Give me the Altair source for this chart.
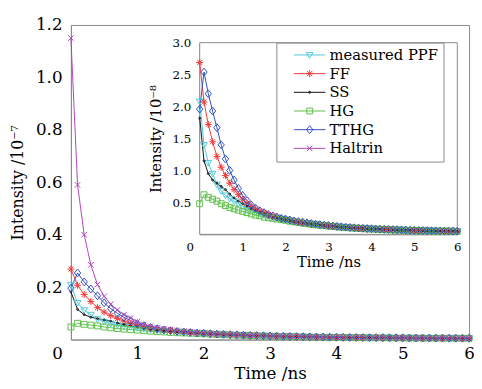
import altair as alt
import pandas as pd

# ---------------- data (intensity in units of 1e-8) ----------------
T = [round(0.1 * i, 1) for i in range(61)]  # time grid, ns
SERIES = ["measured PPF", "FF", "SS", "HG", "TTHG", "Haltrin"]
COLORS = ["#4fc8d8", "#f23a3a", "#111111", "#5ec24a", "#3150c0", "#b044bc"]

PPF = [2.08, 1.40, 1.12, 0.95, 0.78, 0.68, 0.61, 0.56, 0.52, 0.48, 0.44,
       0.41, 0.38, 0.35, 0.33, 0.31, 0.29, 0.27, 0.26, 0.245, 0.23,
       0.215, 0.20, 0.19, 0.18, 0.17, 0.16, 0.152, 0.145, 0.138, 0.13,
       0.124, 0.118, 0.113, 0.108, 0.103, 0.099, 0.095, 0.091, 0.087, 0.084,
       0.081, 0.078, 0.075, 0.073, 0.07, 0.068, 0.066, 0.064, 0.062, 0.06,
       0.058, 0.057, 0.055, 0.054, 0.052, 0.051, 0.05, 0.049, 0.048, 0.047]
FF = [2.69, 2.07, 1.72, 1.45, 1.22, 1.05, 0.92, 0.80, 0.70, 0.62, 0.55,
      0.49, 0.44, 0.40, 0.37, 0.34, 0.31, 0.29, 0.27, 0.25, 0.235,
      0.22, 0.205, 0.195, 0.185, 0.175, 0.165, 0.157, 0.149, 0.141, 0.134,
      0.127, 0.121, 0.115, 0.11, 0.105, 0.1, 0.096, 0.092, 0.088, 0.085,
      0.082, 0.079, 0.076, 0.073, 0.071, 0.069, 0.067, 0.065, 0.063, 0.061,
      0.059, 0.058, 0.056, 0.055, 0.053, 0.052, 0.051, 0.05, 0.049, 0.048]
SS = [1.82, 1.15, 0.95, 0.85, 0.80, 0.75, 0.70, 0.63, 0.57, 0.52, 0.48,
      0.44, 0.40, 0.37, 0.34, 0.32, 0.30, 0.28, 0.26, 0.245, 0.23,
      0.215, 0.20, 0.19, 0.18, 0.17, 0.162, 0.154, 0.146, 0.139, 0.132,
      0.126, 0.12, 0.114, 0.109, 0.104, 0.1, 0.096, 0.092, 0.088, 0.085,
      0.082, 0.079, 0.076, 0.073, 0.071, 0.069, 0.067, 0.065, 0.063, 0.061,
      0.059, 0.058, 0.056, 0.055, 0.053, 0.052, 0.051, 0.05, 0.049, 0.048]
HG = [0.48, 0.62, 0.58, 0.55, 0.52, 0.48, 0.45, 0.42, 0.40, 0.38, 0.36,
      0.34, 0.32, 0.30, 0.29, 0.27, 0.26, 0.25, 0.24, 0.23, 0.22,
      0.205, 0.195, 0.185, 0.175, 0.167, 0.158, 0.15, 0.143, 0.136, 0.129,
      0.123, 0.117, 0.112, 0.107, 0.102, 0.098, 0.094, 0.09, 0.087, 0.084,
      0.081, 0.078, 0.075, 0.073, 0.07, 0.068, 0.066, 0.064, 0.062, 0.06,
      0.058, 0.057, 0.055, 0.054, 0.052, 0.051, 0.05, 0.049, 0.048, 0.047]
TTHG = [1.96, 2.54, 2.20, 1.93, 1.67, 1.40, 1.18, 1.00, 0.85, 0.72, 0.61,
        0.53, 0.46, 0.41, 0.37, 0.34, 0.31, 0.29, 0.27, 0.25, 0.24,
        0.225, 0.21, 0.2, 0.19, 0.18, 0.17, 0.161, 0.153, 0.145, 0.138,
        0.131, 0.125, 0.119, 0.113, 0.108, 0.103, 0.099, 0.095, 0.091, 0.088,
        0.085, 0.082, 0.079, 0.076, 0.074, 0.072, 0.07, 0.068, 0.066, 0.064,
        0.062, 0.06, 0.058, 0.057, 0.055, 0.054, 0.053, 0.052, 0.051, 0.05]
HALTRIN = [11.5, 5.9, 4.0, 2.85, 2.1, 1.65, 1.35, 1.13, 0.95, 0.82, 0.68,
           0.58, 0.51, 0.46, 0.42, 0.38, 0.35, 0.32, 0.30, 0.28, 0.26,
           0.245, 0.23, 0.215, 0.2, 0.19, 0.18, 0.17, 0.16, 0.152, 0.144,
           0.137, 0.13, 0.124, 0.118, 0.113, 0.108, 0.103, 0.099, 0.095, 0.091,
           0.088, 0.085, 0.082, 0.079, 0.076, 0.074, 0.072, 0.07, 0.068, 0.066,
           0.064, 0.062, 0.06, 0.058, 0.057, 0.055, 0.054, 0.053, 0.052, 0.051]

VALUES = [PPF, FF, SS, HG, TTHG, HALTRIN]
INSET_SERIES = ["measured PPF", "FF", "SS", "HG", "TTHG"]

MAIN_Y_TICKS = [0.2, 0.4, 0.6, 0.8, 1.0, 1.2]
INSET_Y_TICKS = [0.5, 1.0, 1.5, 2.0, 2.5, 3.0]
X_TICKS = [0, 1, 2, 3, 4, 5, 6]

# ---------------- marker shapes ----------------
MARK_PATHS = [
    "M-0.85,-0.6L0.85,-0.6L0,0.85Z",                                        # triangle down
    "M-0.9,0L0.9,0M0,-0.9L0,0.9M-0.64,-0.64L0.64,0.64M-0.64,0.64L0.64,-0.64",  # asterisk
    "M-0.25,0A0.25,0.25 0 1,0 0.25,0A0.25,0.25 0 1,0 -0.25,0Z",             # dot
    "M-0.75,-0.75L0.75,-0.75L0.75,0.75L-0.75,0.75Z",                        # square
    "M0,-1L0.8,0L0,1L-0.8,0Z",                                              # diamond
    "M-0.7,-0.7L0.7,0.7M-0.7,0.7L0.7,-0.7",                                 # x
]
LEG_PATHS = [
    "M1,0L7,0M3.36,-0.45L4.64,-0.45L4,0.64Z",
    "M1,0L7,0M3.32,0L4.68,0M4,-0.68L4,0.68M3.52,-0.48L4.48,0.48M3.52,0.48L4.48,-0.48",
    "M1,0L7,0M3.8,0A0.2,0.2 0 1,0 4.2,0A0.2,0.2 0 1,0 3.8,0Z",
    "M1,0L7,0M3.44,-0.56L4.56,-0.56L4.56,0.56L3.44,0.56Z",
    "M1,0L7,0M4,-0.75L4.6,0L4,0.75L3.4,0Z",
    "M1,0L7,0M3.48,-0.52L4.52,0.52M3.48,0.52L4.52,-0.52",
]

rows = []
for name, vals in zip(SERIES, VALUES):
    for t, v in zip(T, vals):
        rows.append({"t": t, "series": name, "v": v})
df = pd.DataFrame(rows)
df_inset = df[df["series"].isin(INSET_SERIES)]

FONT = "DejaVu Serif"
FRAME = "#8a8a8a"

# ---------------- main chart ----------------
main_x = alt.X("t:Q", scale=alt.Scale(domain=[0, 6], nice=False),
               axis=alt.Axis(values=X_TICKS, format="d", title="Time /ns",
                             labelFlush=False, labelFontSize=17, titleFontSize=17,
                             labelPadding=6, titlePadding=5,
                             labelOffset={"condition": {"test": "datum.value == 0", "value": -14}, "value": 0}))
main_y = alt.Y("v7:Q", scale=alt.Scale(domain=[0, 1.2], nice=False),
               axis=alt.Axis(values=MAIN_Y_TICKS, format=".1f", title="Intensity /10\u207b\u2077",
                             labelFontSize=17, titleFontSize=16, labelPadding=9, titlePadding=10))
main_color = alt.Color("series:N", scale=alt.Scale(domain=SERIES, range=COLORS), legend=None)
main_shape = alt.Shape("series:N", scale=alt.Scale(domain=SERIES, range=MARK_PATHS), legend=None)

main_base = alt.Chart(df).transform_calculate(v7="datum.v / 10")
main_lines = main_base.mark_line(strokeWidth=1).encode(x=main_x, y=main_y, color=main_color, detail="series:N")
main_pts = main_base.mark_point(filled=False, size=64, opacity=1, strokeWidth=1).encode(
    x=main_x, y=main_y, color=main_color, shape=main_shape)
main = alt.layer(main_lines, main_pts)

# ---------------- inset ----------------
in_xscale = alt.Scale(domain=[0, 6], range=[131, 393], nice=False)
in_yscale = alt.Scale(domain=[0, 3], range=[213, 18], nice=False)
in_xaxis = alt.Axis(values=X_TICKS, format="d", title="Time /ns", orient="bottom", offset=-107,
                    labelFlush=False, labelFontSize=12, titleFontSize=15, labelPadding=7, titlePadding=3,
                    labelOffset={"condition": {"test": "datum.value == 0", "value": -10}, "value": 0})
in_yaxis = alt.Axis(values=INSET_Y_TICKS, format=".1f", title="Intensity /10\u207b\u2078", orient="left",
                    offset=-131, labelFontSize=12, titleFontSize=15, labelPadding=9, titlePadding=9)

frame = alt.Chart(pd.DataFrame({"a": [0]})).mark_rect(fill="white", stroke=FRAME, strokeWidth=1).encode(
    x=alt.X(datum=0, type="quantitative", scale=in_xscale, axis=in_xaxis),
    x2=alt.X2(datum=6),
    y=alt.Y(datum=0, type="quantitative", scale=in_yscale, axis=in_yaxis),
    y2=alt.Y2(datum=3),
)
in_x = alt.X("t:Q", scale=in_xscale, axis=in_xaxis)
in_y = alt.Y("v:Q", scale=in_yscale, axis=in_yaxis)
in_color = alt.Color("series:N", scale=alt.Scale(domain=SERIES, range=COLORS), legend=None)
in_shape = alt.Shape("series:N", scale=alt.Scale(domain=SERIES, range=MARK_PATHS), legend=None)
in_lines = alt.Chart(df_inset).mark_line(strokeWidth=1).encode(x=in_x, y=in_y, color=in_color, detail="series:N")
in_pts = alt.Chart(df_inset).mark_point(filled=False, size=64, opacity=1, strokeWidth=1).encode(
    x=in_x, y=in_y, color=in_color, shape=in_shape)

leg = alt.Legend(title=None, orient="none", legendX=209, legendY=18, strokeColor=FRAME, fillColor="white",
                 padding=5, symbolSize=114, symbolStrokeWidth=1, labelFont=FONT, labelFontSize=15,
                 labelOffset=34, rowPadding=3, labelColor="black",
                 labelExpr="datum.label + '\u00a0\u00a0\u00a0\u00a0'")
legend_layer = alt.Chart(pd.DataFrame({"lab": SERIES})).transform_filter("false").mark_point(
    filled=False, opacity=1, strokeWidth=1).encode(
    color=alt.Color("lab:N", scale=alt.Scale(domain=SERIES, range=COLORS), legend=leg),
    shape=alt.Shape("lab:N", scale=alt.Scale(domain=SERIES, range=LEG_PATHS), legend=leg),
)

inset = alt.layer(frame, in_lines, in_pts, legend_layer).resolve_scale(color="independent", shape="independent")

chart = alt.layer(main, inset).resolve_scale(
    x="independent", y="independent", color="independent", shape="independent"
).properties(
    width=405, height=320, autosize="none",
    padding={"left": 64, "top": 14, "right": 5, "bottom": 45},
).configure_axis(
    labelFont=FONT, titleFont=FONT, titleFontWeight="normal", labelColor="black", titleColor="black",
    domainColor=FRAME, ticks=False, grid=False,
).configure_view(stroke=FRAME, strokeWidth=1)

chart.save("out.html", embed_options={"renderer": "svg", "actions": False})
